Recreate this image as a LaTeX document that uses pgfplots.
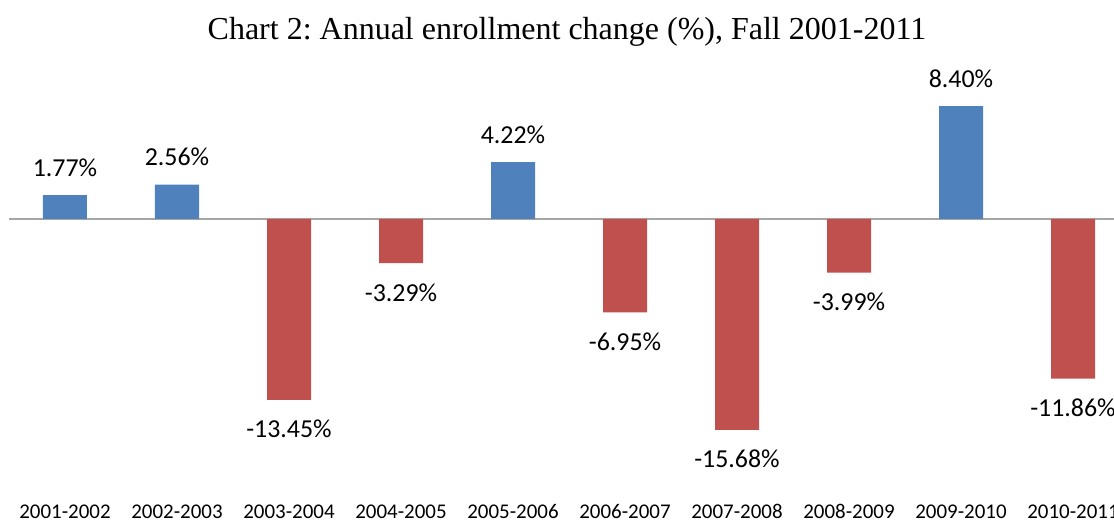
\documentclass[border=0pt]{standalone}
\usepackage{pgfplots}
\pgfplotsset{compat=1.18}
\usepackage{fontspec}
\setmainfont{Liberation Serif}
\newfontfamily\calibri{Carlito}
\definecolor{cblue}{HTML}{4F81BD}
\definecolor{cred}{HTML}{C0504D}
\definecolor{zline}{HTML}{A6A6A6}
\frenchspacing
\begin{document}
\begin{tikzpicture}
\useasboundingbox (-48.75pt,-228pt) rectangle (786.75pt,164.25pt);
\begin{axis}[
  at={(0pt,0pt)}, anchor=origin,
  x=84pt, y=10.0875pt,
  xmin=-0.5, xmax=9.5, ymin=-21.85, ymax=16,
  axis line style={draw=none},
  ytick=\empty,
  xtick={0,...,9},
  xticklabels={2001-2002,2002-2003,2003-2004,2004-2005,2005-2006,2006-2007,2007-2008,2008-2009,2009-2010,2010-2011},
  xtick style={draw=none},
  xticklabel style={anchor=base, font=\calibri\fontsize{15.7}{18}\selectfont},
  ybar, bar width=33pt, bar shift=0pt,
  clip=false,
  point meta=explicit symbolic,
  nodes near coords={\pgfplotspointmeta\%},
  every node near coord/.append style={font=\calibri\fontsize{19.4}{22}\selectfont, black},
]
\draw[zline, line width=1.3pt] (axis cs:-0.5,0) -- (axis cs:9.5,0);
\addplot[fill=cblue, draw=none, every node near coord/.append style={anchor=base, yshift=14pt}]
  table[meta=label] {
x y label
0 1.77 1.77
1 2.56 2.56
4 4.22 4.22
8 8.40 8.40
};
\addplot[fill=cred, draw=none, every node near coord/.append style={anchor=base, yshift=-28.5pt}]
  table[meta=label] {
x y label
2 -13.45 -13.45
3 -3.29 -3.29
5 -6.95 -6.95
6 -15.68 -15.68
7 -3.99 -3.99
9 -11.86 -11.86
};
\end{axis}
\node[anchor=base, font=\fontsize{24}{28}\selectfont] at (376.5pt,134.25pt) {Chart 2: Annual enrollment change (\%), Fall 2001-2011};
\end{tikzpicture}
\end{document}
